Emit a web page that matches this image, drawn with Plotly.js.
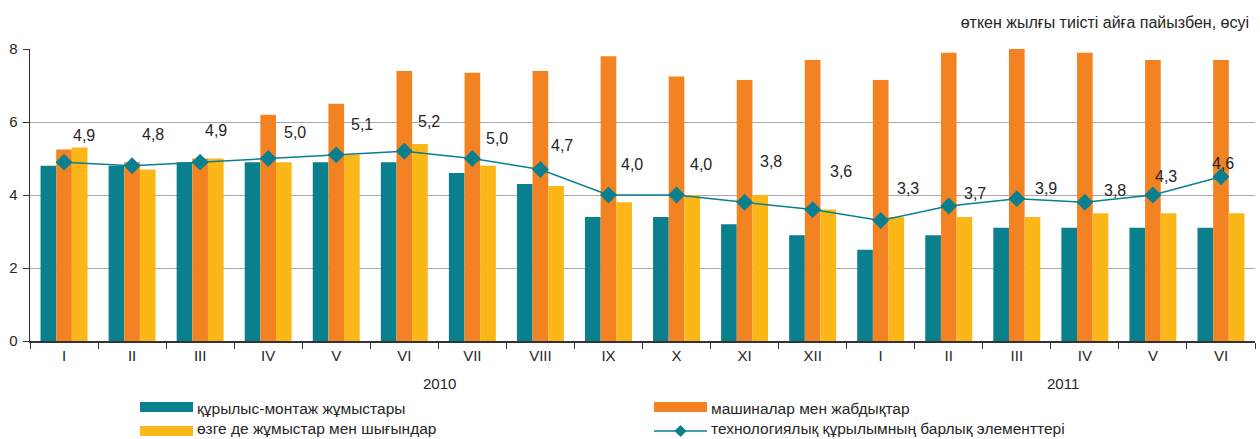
<!DOCTYPE html>
<html>
<head>
<meta charset="utf-8">
<script src="https://cdn.plot.ly/plotly-3.0.1.min.js"></script>
<style>
  html, body { margin: 0; padding: 0; background: #fff; }
  #chart { width: 1260px; height: 439px; }
</style>
</head>
<body>
<div id="chart"></div>
<script>
// ---- data ----
const months = ['I','II','III','IV','V','VI','VII','VIII','IX','X','XI','XII','I','II','III','IV','V','VI'];
const years  = [2010,2010,2010,2010,2010,2010,2010,2010,2010,2010,2010,2010,2011,2011,2011,2011,2011,2011];
const construction = [4.8,4.8,4.9,4.9,4.9,4.9,4.6,4.3,3.4,3.4,3.2,2.9,2.5,2.9,3.1,3.1,3.1,3.1];
const machinery    = [5.25,4.9,5.0,6.2,6.5,7.4,7.35,7.4,7.8,7.25,7.15,7.7,7.15,7.9,8.0,7.9,7.7,7.7];
const otherWorks   = [5.3,4.7,5.0,4.9,5.1,5.4,4.8,4.25,3.8,4.0,4.0,3.6,3.4,3.4,3.4,3.5,3.5,3.5];
const allElements  = [4.9,4.8,4.9,5.0,5.1,5.2,5.0,4.7,4.0,4.0,3.8,3.6,3.3,3.7,3.9,3.8,4.0,4.5];
const allLabels    = ['4,9','4,8','4,9','5,0','5,1','5,2','5,0','4,7','4,0','4,0','3,8','3,6','3,3','3,7','3,9','3,8','4,3','4,6'];
const seriesNames  = ['құрылыс-монтаж жұмыстары','машиналар мен жабдықтар','өзге де жұмыстар мен шығындар','технологиялық құрылымның барлық элементтері'];
const chartTitle   = 'өткен жылғы тиісті айға пайызбен, өсуі';

// ---- styling / layout helpers ----
const C_TEAL = '#0a7f8e', C_ORANGE = '#f38322', C_YELLOW = '#fbb718', C_TEXT = '#262626';
const FONT = 'Liberation Sans, Arial, sans-serif';
const keys = months.map((m, i) => years[i] + '-' + m);
// label offsets in pixels relative to each line point (placement only)
const labelDx = [20,21,16,27,26,25,25,22,24,24,26,28,27,26,29,30,13,2];
const labelDy = [27,31,32,26,30,30,20,24,31,31,41,38,32,12,10,12,19,13];

const W = 1260, H = 439, ML = 30, MR = 5, MT = 49, MB = 98;
const PW = W - ML - MR, PH = H - MT - MB;
const px2x = p => (p - ML) / PW;
const px2y = p => (H - MB - p) / PH;

const traces = [
  { type: 'bar', x: keys, y: construction, name: seriesNames[0], marker: { color: C_TEAL }, showlegend: false, hoverinfo: 'y' },
  { type: 'bar', x: keys, y: machinery, name: seriesNames[1], marker: { color: C_ORANGE }, showlegend: false, hoverinfo: 'y' },
  { type: 'bar', x: keys, y: otherWorks, name: seriesNames[2], marker: { color: C_YELLOW }, showlegend: false, hoverinfo: 'y' },
  { type: 'scatter', mode: 'lines+markers', x: keys, y: allElements, name: seriesNames[3],
    line: { color: C_TEAL, width: 1.5 }, marker: { symbol: 'diamond', size: 13, color: C_TEAL }, showlegend: false, hoverinfo: 'y' }
];

const annotations = [];
allLabels.forEach((t, i) => {
  annotations.push({ x: keys[i], y: allElements[i], xref: 'x', yref: 'y', text: t, showarrow: false,
    xshift: labelDx[i], yshift: labelDy[i], xanchor: 'center', yanchor: 'middle',
    font: { family: FONT, size: 16, color: C_TEXT } });
});

// year group labels
[2010, 2011].forEach((yr, k) => {
  const idx = years.map((y, i) => y === yr ? i : null).filter(v => v !== null);
  const mid = (idx[0] + idx[idx.length - 1]) / 2;
  annotations.push({ x: mid, y: px2y(383), xref: 'x', yref: 'paper', text: String(yr), showarrow: false,
    xshift: k === 0 ? 1 : 12, xanchor: 'center', yanchor: 'middle', font: { family: FONT, size: 15, color: C_TEXT } });
});

// manual legend
const shapes = [];
const legendItems = [
  { x0: 140, x1: 193, y: 407, ty: 408, color: C_TEAL, kind: 'bar', name: seriesNames[0] },
  { x0: 654, x1: 707, y: 407, ty: 408, color: C_ORANGE, kind: 'bar', name: seriesNames[1] },
  { x0: 140, x1: 193, y: 431, ty: 428, color: C_YELLOW, kind: 'bar', name: seriesNames[2] },
  { x0: 654, x1: 707, y: 431, ty: 428, color: C_TEAL, kind: 'line', name: seriesNames[3] }
];
legendItems.forEach(it => {
  if (it.kind === 'bar') {
    shapes.push({ type: 'rect', xref: 'paper', yref: 'paper', x0: px2x(it.x0), x1: px2x(it.x1),
      y0: px2y(it.y - 5), y1: px2y(it.y + 5), fillcolor: it.color, line: { width: 0 } });
  } else {
    shapes.push({ type: 'line', xref: 'paper', yref: 'paper', x0: px2x(it.x0), x1: px2x(it.x1),
      y0: px2y(it.y), y1: px2y(it.y), line: { color: it.color, width: 1.5 } });
    const cx = (it.x0 + it.x1) / 2, r = 6;
    const path = 'M ' + px2x(cx) + ' ' + px2y(it.y - r) + ' L ' + px2x(cx + r) + ' ' + px2y(it.y) +
      ' L ' + px2x(cx) + ' ' + px2y(it.y + r) + ' L ' + px2x(cx - r) + ' ' + px2y(it.y) + ' Z';
    shapes.push({ type: 'path', xref: 'paper', yref: 'paper', path: path, fillcolor: it.color, line: { width: 0 } });
  }
  annotations.push({ x: px2x(it.x1 + 3), y: px2y(it.ty), xref: 'paper', yref: 'paper', text: it.name,
    showarrow: false, xanchor: 'left', yanchor: 'middle', borderpad: 0, font: { family: FONT, size: 15.5, color: C_TEXT } });
});

const layout = {
  width: W, height: H,
  margin: { l: ML, r: MR, t: MT, b: MB, pad: 0 },
  paper_bgcolor: '#ffffff', plot_bgcolor: '#ffffff',
  font: { family: FONT, size: 15, color: C_TEXT },
  title: { text: chartTitle, xref: 'paper', x: px2x(1249), xanchor: 'right', yref: 'container', y: 1 - 22 / H, yanchor: 'middle',
    font: { family: FONT, size: 16, color: C_TEXT } },
  barmode: 'group', bargap: 0.31, bargroupgap: 0,
  xaxis: {
    type: 'category', categoryorder: 'array', categoryarray: keys,
    tickmode: 'array', tickvals: keys, ticktext: months,
    tickson: 'boundaries', ticks: 'outside', ticklen: 6, tickcolor: '#333', tickwidth: 1,
    showline: true, linecolor: '#333', linewidth: 1.5, showgrid: false, zeroline: false,
    range: [-0.5, 17.5], fixedrange: true,
    tickfont: { family: FONT, size: 15, color: C_TEXT }
  },
  yaxis: {
    range: [0, 8], tickmode: 'linear', tick0: 0, dtick: 2,
    ticks: 'outside', ticklen: 6, tickcolor: '#333', tickwidth: 1,
    showline: true, linecolor: '#333', linewidth: 1.5,
    showgrid: true, gridcolor: '#aaaaaa', gridwidth: 1, zeroline: false,
    ticklabelstandoff: 2, fixedrange: true,
    tickfont: { family: FONT, size: 15, color: C_TEXT }
  },
  showlegend: false,
  annotations: annotations,
  shapes: shapes
};

Plotly.newPlot('chart', traces, layout, { displayModeBar: false, staticPlot: true });
</script>
</body>
</html>
